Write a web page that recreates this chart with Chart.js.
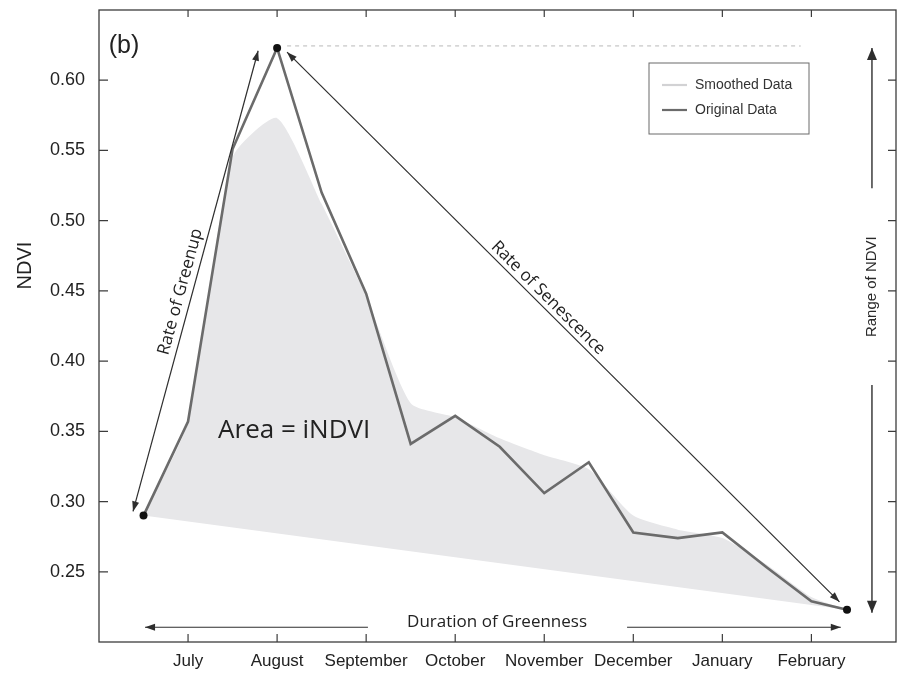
<!DOCTYPE html>
<html>
<head>
<meta charset="utf-8">
<script src="https://cdn.jsdelivr.net/npm/chart.js@4.4.1/dist/chart.umd.min.js"></script>
<style>
  html, body { margin: 0; padding: 0; background: #fff; }
  #wrap { width: 897px; height: 673px; position: relative; }
</style>
</head>
<body>
<div id="wrap"><canvas id="ndviChart"></canvas></div>
<script>
// x axis: 1 = July ... 8 = February (axis runs from June to March)
const monthLabels = ["July", "August", "September", "October", "November", "December", "January", "February"];
const monthTicks = [1, 2, 3, 4, 5, 6, 7, 8];
const yTicks = [0.25, 0.30, 0.35, 0.40, 0.45, 0.50, 0.55, 0.60];

// composite dates (in months) and NDVI values
const compositeX = [0.5, 1.0, 1.5, 2.0, 2.5, 3.0, 3.5, 4.0, 4.5, 5.0, 5.5, 6.0, 6.5, 7.0, 7.5, 8.0, 8.4];
const originalNdvi = [0.290, 0.357, 0.551, 0.623, 0.520, 0.448, 0.341, 0.361, 0.339, 0.306, 0.328, 0.278, 0.274, 0.278, 0.253, 0.229, 0.223];
const smoothedNdvi = [0.290, 0.357, 0.545, 0.573, 0.512, 0.446, 0.370, 0.360, 0.345, 0.333, 0.323, 0.290, 0.280, 0.274, 0.255, 0.232, 0.223];
// straight base under the integrated area (start to end of season)
const baseX = [0.5, 8.4];
const baseNdvi = [0.290, 0.223];

const toPoints = (xs, ys) => xs.map((v, i) => ({ x: v, y: ys[i] }));
const peakIdx = originalNdvi.indexOf(Math.max(...originalNdvi));
const lastIdx = originalNdvi.length - 1;

function arrowHead(ctx, x1, y1, x2, y2, len, half) {
    const a = Math.atan2(y2 - y1, x2 - x1);
    ctx.beginPath();
    ctx.moveTo(x2, y2);
    ctx.lineTo(x2 - len * Math.cos(a) + half * Math.sin(a), y2 - len * Math.sin(a) - half * Math.cos(a));
    ctx.lineTo(x2 - len * Math.cos(a) - half * Math.sin(a), y2 - len * Math.sin(a) + half * Math.cos(a));
    ctx.closePath();
    ctx.fill();
}

function arrow(ctx, x1, y1, x2, y2, startHead, endHead, len, half) {
    ctx.beginPath();
    ctx.moveTo(x1, y1);
    ctx.lineTo(x2, y2);
    ctx.stroke();
    if (endHead) arrowHead(ctx, x1, y1, x2, y2, len, half);
    if (startHead) arrowHead(ctx, x2, y2, x1, y1, len, half);
}

function textAlong(ctx, text, x1, y1, x2, y2, t, offset) {
    const ang = Math.atan2(y2 - y1, x2 - x1);
    ctx.save();
    ctx.translate(x1 + (x2 - x1) * t, y1 + (y2 - y1) * t);
    ctx.rotate(ang);
    ctx.textAlign = "center";
    ctx.textBaseline = "alphabetic";
    ctx.fillText(text, 0, -offset);
    ctx.restore();
}

// frame, inward ticks, legend box and the figure's annotations
const ndviDecor = {
    id: "ndviDecor",
    afterDatasetsDraw(chart) {
        const { ctx, chartArea: a, scales } = chart;
        const px = (v) => scales.x.getPixelForValue(v);
        const py = (v) => scales.y.getPixelForValue(v);
        ctx.save();

        // box round the plot with ticks pointing inward
        ctx.strokeStyle = "#3c3c3c";
        ctx.lineWidth = 1.3;
        ctx.strokeRect(a.left, a.top, a.right - a.left, a.bottom - a.top);
        ctx.lineWidth = 1.2;
        ctx.beginPath();
        scales.x.ticks.forEach((t) => {
            if (!monthTicks.includes(t.value)) return;
            const p = px(t.value);
            ctx.moveTo(p, a.bottom); ctx.lineTo(p, a.bottom - 8);
            ctx.moveTo(p, a.top); ctx.lineTo(p, a.top + 7);
        });
        scales.y.ticks.forEach((t) => {
            if (!yTicks.some((v) => Math.abs(v - t.value) < 1e-6)) return;
            const p = py(t.value);
            ctx.moveTo(a.left, p); ctx.lineTo(a.left + 9, p);
            ctx.moveTo(a.right, p); ctx.lineTo(a.right - 8, p);
        });
        ctx.stroke();

        // y axis title
        ctx.fillStyle = "#222";
        ctx.font = "20px 'Liberation Sans', Arial, sans-serif";
        ctx.save();
        ctx.translate(a.left - 74, py(0.468));
        ctx.rotate(-Math.PI / 2);
        ctx.textAlign = "center";
        ctx.textBaseline = "middle";
        ctx.fillText("NDVI", 0, 0);
        ctx.restore();

        // panel letter
        ctx.font = "25px 'Liberation Sans', Arial, sans-serif";
        ctx.textAlign = "left";
        ctx.textBaseline = "middle";
        ctx.fillText("(b)", px(0.11), py(0.624));

        // dashed guide from the peak
        const peakX = compositeX[peakIdx], peakY = originalNdvi[peakIdx];
        const endY = originalNdvi[lastIdx];
        ctx.strokeStyle = "#b8b8b8";
        ctx.lineWidth = 1;
        ctx.setLineDash([4, 4]);
        ctx.beginPath();
        ctx.moveTo(px(peakX) + 10, py(peakY) - 2);
        ctx.lineTo(px(7.88), py(peakY) - 2);
        ctx.stroke();
        ctx.setLineDash([]);

        // arrows
        ctx.strokeStyle = "#2e2e2e";
        ctx.fillStyle = "#2e2e2e";
        ctx.lineWidth = 1.2;
        const g = [px(0.382), py(0.293), px(1.787), py(0.621)];
        arrow(ctx, g[0], g[1], g[2], g[3], true, true, 10, 3.5);
        const s = [px(2.112), py(0.620), px(8.315), py(0.2286)];
        arrow(ctx, s[0], s[1], s[2], s[3], true, true, 10, 3.5);

        // duration of greenness
        const dy = py(0.2105);
        arrow(ctx, px(3.02), dy, px(0.517), dy, false, true, 10, 3.5);
        arrow(ctx, px(5.93), dy, px(8.33), dy, false, true, 10, 3.5);

        // range of NDVI
        const rx = px(8.68);
        const rMid = py(0.453);
        ctx.font = "15px 'Liberation Sans', Arial, sans-serif";
        const rHalf = ctx.measureText("Range of NDVI").width / 2 + 48;
        ctx.lineWidth = 1.4;
        arrow(ctx, rx, rMid - rHalf, rx, py(peakY), false, true, 12, 5);
        arrow(ctx, rx, rMid + rHalf, rx, py(endY) + 3, false, true, 12, 5);
        ctx.fillStyle = "#2a2a2a";
        ctx.save();
        ctx.translate(rx, rMid);
        ctx.rotate(-Math.PI / 2);
        ctx.textAlign = "center";
        ctx.textBaseline = "middle";
        ctx.fillText("Range of NDVI", 0, 0);
        ctx.restore();

        // annotation texts
        ctx.fillStyle = "#222";
        ctx.font = "17px 'Open Sans', sans-serif";
        textAlong(ctx, "Rate of Greenup", g[0], g[1], g[2], g[3], 0.47, 7);
        textAlong(ctx, "Rate of Senescence", s[0], s[1], s[2], s[3], 0.46, 5);
        ctx.textAlign = "center";
        ctx.textBaseline = "middle";
        ctx.fillText("Duration of Greenness", px(4.47), py(0.214));
        ctx.font = "26px 'Open Sans', sans-serif";
        ctx.textAlign = "left";
        ctx.fillText("Area = iNDVI", px(1.337), py(0.3507));

        // legend box
        const lx = a.right - 247, ly = a.top + 53;
        ctx.strokeStyle = "#6a6a6a";
        ctx.lineWidth = 1;
        ctx.strokeRect(lx, ly, 160, 71);
        const items = [chart.data.datasets[1], chart.data.datasets[0]];
        ctx.font = "14px 'Liberation Sans', Arial, sans-serif";
        ctx.textAlign = "left";
        ctx.textBaseline = "middle";
        items.forEach((ds, i) => {
            const yy = ly + 22 + i * 25;
            ctx.strokeStyle = ds.legendColor;
            ctx.lineWidth = 2.2;
            ctx.beginPath();
            ctx.moveTo(lx + 13, yy);
            ctx.lineTo(lx + 38, yy);
            ctx.stroke();
            ctx.fillStyle = "#333";
            ctx.fillText(ds.label, lx + 46, yy);
        });

        ctx.restore();
    },
};

new Chart(document.getElementById("ndviChart"), {
    type: "line",
    data: {
        datasets: [
            {
                label: "Original Data",
                data: toPoints(compositeX, originalNdvi),
                borderColor: "#6b6b6b",
                legendColor: "#6b6b6b",
                borderWidth: 2.6,
                tension: 0,
                fill: false,
                pointRadius: (c) => (c.dataIndex === 0 || c.dataIndex === peakIdx || c.dataIndex === lastIdx ? 4 : 0),
                pointBackgroundColor: "#111",
                pointBorderWidth: 0,
            },
            {
                label: "Smoothed Data",
                data: toPoints(compositeX, smoothedNdvi),
                borderColor: "rgba(0,0,0,0)",
                legendColor: "#d2d2d4",
                borderWidth: 0,
                backgroundColor: "#e7e7e9",
                fill: "+1",
                tension: 0.2,
                pointRadius: 0,
            },
            {
                label: "base",
                data: toPoints(baseX, baseNdvi),
                borderColor: "rgba(0,0,0,0)",
                borderWidth: 0,
                fill: false,
                pointRadius: 0,
            },
        ],
    },
    options: {
        responsive: true,
        maintainAspectRatio: false,
        animation: false,
        layout: { autoPadding: false, padding: { left: 0, right: 1, top: 10, bottom: 0 } },
        scales: {
            x: {
                type: "linear",
                min: 0,
                max: 8.95,
                grid: { display: false, drawTicks: false },
                border: { display: false },
                ticks: {
                    stepSize: 1,
                    padding: 9,
                    color: "#222",
                    font: { family: "'Liberation Sans', Arial, sans-serif", size: 17 },
                    maxRotation: 0,
                    autoSkip: false,
                    callback: function (value) {
                        const i = monthTicks.indexOf(value);
                        return i >= 0 ? monthLabels[i] : null;
                    },
                },
                afterFit: function (scale) {
                    scale.height = 31;
                    scale.paddingLeft = 0;
                    scale.paddingRight = 0;
                },
            },
            y: {
                min: 0.2,
                max: 0.65,
                grid: { display: false, drawTicks: false },
                border: { display: false },
                ticks: {
                    stepSize: 0.05,
                    padding: 14,
                    color: "#222",
                    font: { family: "'Liberation Sans', Arial, sans-serif", size: 18 },
                    callback: function (value) {
                        return yTicks.some((v) => Math.abs(v - value) < 1e-6) ? value.toFixed(2) : null;
                    },
                },
                afterFit: function (scale) {
                    scale.width = 99;
                    scale.paddingTop = 0;
                    scale.paddingBottom = 0;
                },
            },
        },
        plugins: {
            legend: { display: false },
            tooltip: { enabled: false },
        },
    },
    plugins: [ndviDecor],
});
</script>
</body>
</html>
